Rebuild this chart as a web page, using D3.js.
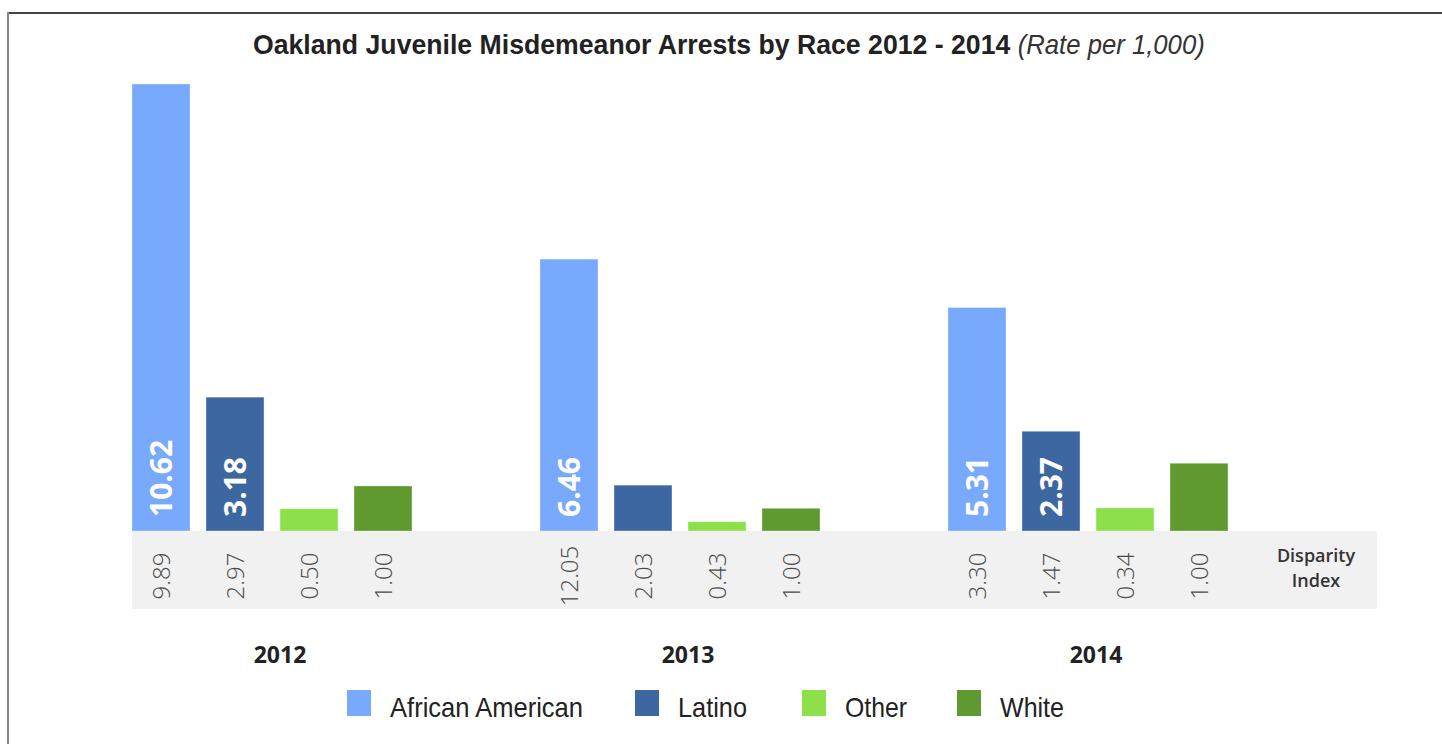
<!DOCTYPE html>
<html>
<head>
<meta charset="utf-8">
<script src="https://cdn.jsdelivr.net/npm/d3@7"></script>
<style>
  body { margin: 0; background: #fff; }
  svg { display: block; }
</style>
</head>
<body>
<svg id="chart" width="1442" height="744"></svg>
<script>
// rates per 1,000 (bar heights) and disparity index (relative to White)
var years = ["2012", "2013", "2014"];
var races = ["African American", "Latino", "Other", "White"];
var colors = ["#79a9fd", "#3d67a0", "#8ee04a", "#5f9930"];
var rates = [
  [10.62, 3.18, 0.53, 1.07],
  [6.46, 1.09, 0.22, 0.54],
  [5.31, 2.37, 0.55, 1.61]
];
var disparity = [
  ["9.89", "2.97", "0.50", "1.00"],
  ["12.05", "2.03", "0.43", "1.00"],
  ["3.30", "1.47", "0.34", "1.00"]
];
var labelled = ["African American", "Latino"]; // only these show a value inside the bar
var minLabelValue = 2;

var svg = d3.select("#chart");
var narrow = "'Liberation Sans', Arial, sans-serif";
var sans = "'Open Sans', 'Noto Sans', sans-serif";

// frame lines
svg.append("line").attr("x1", 8).attr("x2", 1442).attr("y1", 13).attr("y2", 13)
  .attr("stroke", "#444").attr("stroke-width", 2);
svg.append("line").attr("x1", 8).attr("x2", 8).attr("y1", 12).attr("y2", 744)
  .attr("stroke", "#888").attr("stroke-width", 2);

// title: one text, squeezed horizontally to mimic the condensed face
var title = svg.append("text").attr("x", 0).attr("y", 0)
  .style("font-family", narrow).style("font-size", "28px").attr("fill", "#222");
title.append("tspan").style("font-weight", "bold")
  .text("Oakland Juvenile Misdemeanor Arrests by Race 2012 - 2014 ");
title.append("tspan").style("font-style", "italic").style("font-size", "27px").attr("fill", "#333")
  .text("(Rate per 1,000)");
var tw = title.node().getComputedTextLength();
title.attr("transform", "translate(253,54) scale(" + (952 / tw) + ",1)");

var x0 = d3.scaleBand().domain(years).range([132, 132 + 3 * 408]);
var x1 = d3.scaleBand().domain(races).range([0, 280]).paddingInner(16 / 74).paddingOuter(0);
var y = d3.scaleLinear().domain([0, 10.62]).range([531, 84]);

// grey band for the disparity index
svg.append("rect").attr("x", 132).attr("y", 531).attr("width", 1377 - 132).attr("height", 78)
  .attr("fill", "#f1f1f1");

var groups = svg.selectAll(".year").data(years).enter().append("g")
  .attr("class", "year")
  .attr("transform", function(d) { return "translate(" + x0(d) + ",0)"; });

groups.each(function(yr, i) {
  var g = d3.select(this);
  var rows = races.map(function(r, j) {
    return { race: r, value: rates[i][j], idx: disparity[i][j], color: colors[j] };
  });

  g.selectAll("rect.bar").data(rows).enter().append("rect")
    .attr("class", "bar")
    .attr("x", function(d) { return x1(d.race); })
    .attr("y", function(d) { return y(d.value); })
    .attr("width", x1.bandwidth())
    .attr("height", function(d) { return y(0) - y(d.value); })
    .attr("fill", function(d) { return d.color; })
    .attr("stroke", "rgba(255,255,255,0.35)").attr("stroke-width", 1);

  g.selectAll("text.val").data(rows.filter(function(d) {
      return labelled.indexOf(d.race) >= 0 && d.value >= minLabelValue;
    })).enter().append("text")
    .attr("class", "val")
    .attr("transform", function(d) {
      return "translate(" + (x1(d.race) + x1.bandwidth() / 2 + 11) + "," + (y(0) - 14) + ") rotate(-90)";
    })
    .attr("fill", "#fff")
    .style("font-family", sans)
    .style("font-weight", "bold").style("font-size", "30px")
    .text(function(d) { return d.value.toFixed(2); });

  g.selectAll("text.idx").data(rows).enter().append("text")
    .attr("class", "idx")
    .attr("transform", function(d) {
      return "translate(" + (x1(d.race) + x1.bandwidth() / 2 + 9) + ",576) rotate(-90)";
    })
    .attr("text-anchor", "middle")
    .attr("fill", "#4a4a4a")
    .style("font-family", sans)
    .style("font-weight", 300).style("font-size", "24px")
    .text(function(d) { return d.idx; });

  g.append("text")
    .attr("x", 148).attr("y", 663)
    .attr("text-anchor", "middle")
    .attr("fill", "#222")
    .style("font-family", sans)
    .style("font-weight", "bold").style("font-size", "23px")
    .text(yr);
});

// disparity index label
[["Disparity", 562], ["Index", 587]].forEach(function(l) {
  svg.append("text").attr("x", 1316).attr("y", l[1]).attr("text-anchor", "middle").attr("fill", "#333")
    .style("font-family", sans)
    .style("font-weight", 600).style("font-size", "18px")
    .text(l[0]);
});

// legend
var legendX = [347, 635, 802, 957];
var legendW = [193, 69, 62, 64];
var leg = svg.selectAll(".leg").data(races).enter().append("g")
  .attr("class", "leg")
  .attr("transform", function(d, i) { return "translate(" + legendX[i] + ",690)"; });
leg.append("rect").attr("width", 24).attr("height", 26)
  .attr("fill", function(d, i) { return colors[i]; });
leg.append("text").attr("x", 43).attr("y", 27)
  .attr("textLength", function(d, i) { return legendW[i]; })
  .attr("lengthAdjust", "spacingAndGlyphs")
  .attr("fill", "#222")
  .style("font-family", narrow).style("font-size", "28px")
  .text(function(d) { return d; });
</script>
</body>
</html>
